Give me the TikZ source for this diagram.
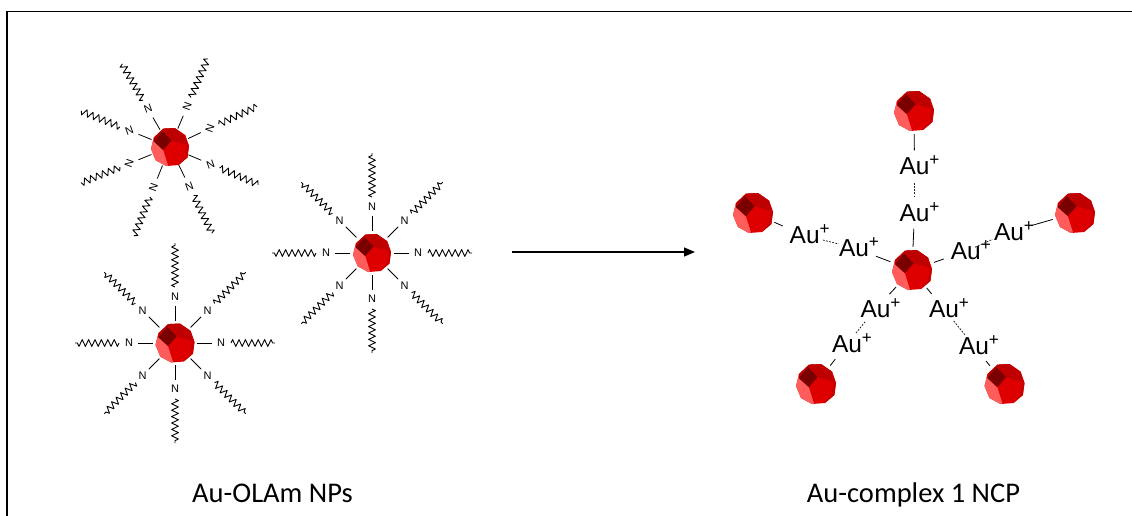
\documentclass[tikz,border=0pt]{standalone}
\usepackage{fontspec}
\setmainfont{Carlito}
\newfontfamily\labelfont{Liberation Sans}
\usetikzlibrary{arrows.meta,decorations.pathmorphing}

\definecolor{npdark}{HTML}{7A0000}
\definecolor{nptop}{HTML}{BE0000}
\definecolor{npfront}{HTML}{DE0000}
\definecolor{nplight}{HTML}{FF5C5C}
\definecolor{npside}{HTML}{C80000}

\tikzset{
  % faceted gold nanoparticle, unit radius
  np/.pic={
    \fill[npfront] (-0.35,0.97) -- (0.25,1.0) -- (0.8,0.62) -- (1.0,0.05) -- (0.92,-0.55)
      -- (0.45,-0.95) -- (-0.2,-1.0) -- (-0.75,-0.7) -- (-1.0,-0.1) -- (-0.85,0.5) -- cycle;
    \fill[nplight] (-0.85,0.5) -- (-0.86,0.3) -- (-0.36,-0.16) -- (-0.1,-0.98) -- (-0.2,-1.0)
      -- (-0.75,-0.7) -- (-1.0,-0.1) -- cycle;
    \fill[nptop] (-0.85,0.5) -- (-0.35,0.97) -- (0.25,1.0) -- (0.8,0.62) -- (0.86,0.12)
      -- (0.08,0.34) -- (-0.4,0.84) -- (-0.86,0.3) -- cycle;
    \fill[npside] (0.86,0.12) -- (0.8,0.62) -- (1.0,0.05) -- (0.92,-0.55) -- (0.45,-0.95)
      -- (0.8,-0.52) -- cycle;
    \fill[npdark] (-0.4,0.84) -- (0.08,0.34) -- (-0.36,-0.16) -- (-0.86,0.3) -- cycle;
  },
  bond/.style={line width=0.8pt},
  chain/.style={line width=0.9pt, line join=round, decorate,
    decoration={zigzag, segment length=6.4pt, amplitude=3.4pt}},
  nlab/.style={font=\labelfont\fontsize{11}{12}\selectfont, inner sep=0pt},
  aulab/.style={font=\labelfont\fontsize{24.5}{26}\selectfont, inner sep=4pt},
  npnode/.style={circle, minimum size=40pt, inner sep=0pt},
  link/.style={line width=0.8pt, shorten <=3pt, shorten >=3pt},
  weak/.style={line width=0.8pt, black!85, dash pattern=on 1.8pt off 1.4pt},
  caption/.style={font=\fontsize{28.5}{30}\selectfont, anchor=base, inner sep=0pt},
}
\newcommand\aup{Au\rlap{\smash{\textsuperscript{+}}}}

\begin{document}
\begin{tikzpicture}[x=1pt,y=1pt]
\useasboundingbox (0,0) rectangle (1132,-515);
\clip (0,0) rectangle (1132,-515);

% frame
\draw[line width=1.7pt] (7,-530) -- (7,-11.5) -- (1145,-11.5);

% ---- oleylamine-capped particles ----
\begin{scope}[shift={(170,-147)}]
  \foreach \a/\r in {25/70, 67/70, 120/20, 158/20, -158/70, -112/70, -64/20, -23/20} {
    \draw[bond] (\a:20) -- (\a:34);
    \node[nlab, rotate=\r] (tl-n\a) at (\a:44) {N};
    \draw[chain] (\a:54) -- (\a:96);
  }
  \pic[scale=19] {np};
\end{scope}

\begin{scope}[shift={(175,-343)}]
  \foreach \a in {0,45,...,315} {
    \draw[bond] (\a:22) -- (\a:37);
    \node[nlab] (bl-n\a) at (\a:46) {N};
    \draw[chain] (\a:56) -- (\a:100);
  }
  \pic[scale=19.5] {np};
\end{scope}

\begin{scope}[shift={(372,-253)}]
  \foreach \a in {0,45,...,315} {
    \draw[bond] (\a:22) -- (\a:37);
    \node[nlab] (md-n\a) at (\a:46) {N};
    \draw[chain] (\a:56) -- (\a:100);
  }
  \pic[scale=19] {np};
\end{scope}

% ---- reaction arrow ----
\coordinate (arrS) at (512,-252);
\coordinate (arrE) at (695,-252);
\draw[line width=1.2pt, -{Triangle[length=11pt,width=9pt]}] (arrS) -- (arrE);

% ---- network of particles bridged by Au(I) ----
\node[npnode] (pc)  at (912,-270) {};
\node[npnode] (pt)  at (914,-111) {};
\node[npnode] (pl)  at (753,-213) {};
\node[npnode] (pr)  at (1075,-213) {};
\node[npnode] (pbl) at (816,-384) {};
\node[npnode] (pbr) at (1004.5,-384) {};
\foreach \p in {pc,pt,pl,pr,pbl,pbr} \pic[scale=20] at (\p) {np};

\node[aulab] (t1)  at (914.5,-166) {\aup};
\node[aulab] (t2)  at (914.5,-213) {\aup};
\node[aulab] (l1)  at (804.7,-235.5) {\aup};
\node[aulab] (l2)  at (854,-247.8) {\aup};
\node[aulab] (r2)  at (965.8,-251.3) {\aup};
\node[aulab] (r1)  at (1009,-232) {\aup};
\node[aulab] (bl2) at (875.5,-309) {\aup};
\node[aulab] (bl1) at (847,-344) {\aup};
\node[aulab] (br2) at (944,-309) {\aup};
\node[aulab] (br1) at (974,-346) {\aup};

\draw[link] (pt) -- (t1);
\draw[weak, shorten <=4pt, shorten >=3pt] (t1) -- (t2);
\draw[link] (t2) -- (pc);

\draw[link] (pl) -- (l1);
\draw[weak, shorten <=-1pt, shorten >=-4pt] (l1) -- (l2);
\draw[link] (l2) -- (pc);

\draw[link] (pc) -- (r2);
\draw[weak, shorten <=-11pt, shorten >=-3pt] (r2) -- (r1);
\draw[link] (r1) -- (pr);

\draw[link] (pc) -- (bl2);
\draw[weak, shorten >=-3pt] (bl2) -- (bl1);
\draw[link] (bl1) -- (pbl);

\draw[link] (pc) -- (br2);
\draw[weak, shorten <=-1pt, shorten >=-2pt] (br2) -- (br1);
\draw[link] (br1) -- (pbr);

% ---- captions ----
\node[caption] (capL) at (272.5,-502) {Au-OLAm NPs};
\node[caption] (capR) at (913.5,-502) {Au-complex 1 NCP};
\end{tikzpicture}
\end{document}
